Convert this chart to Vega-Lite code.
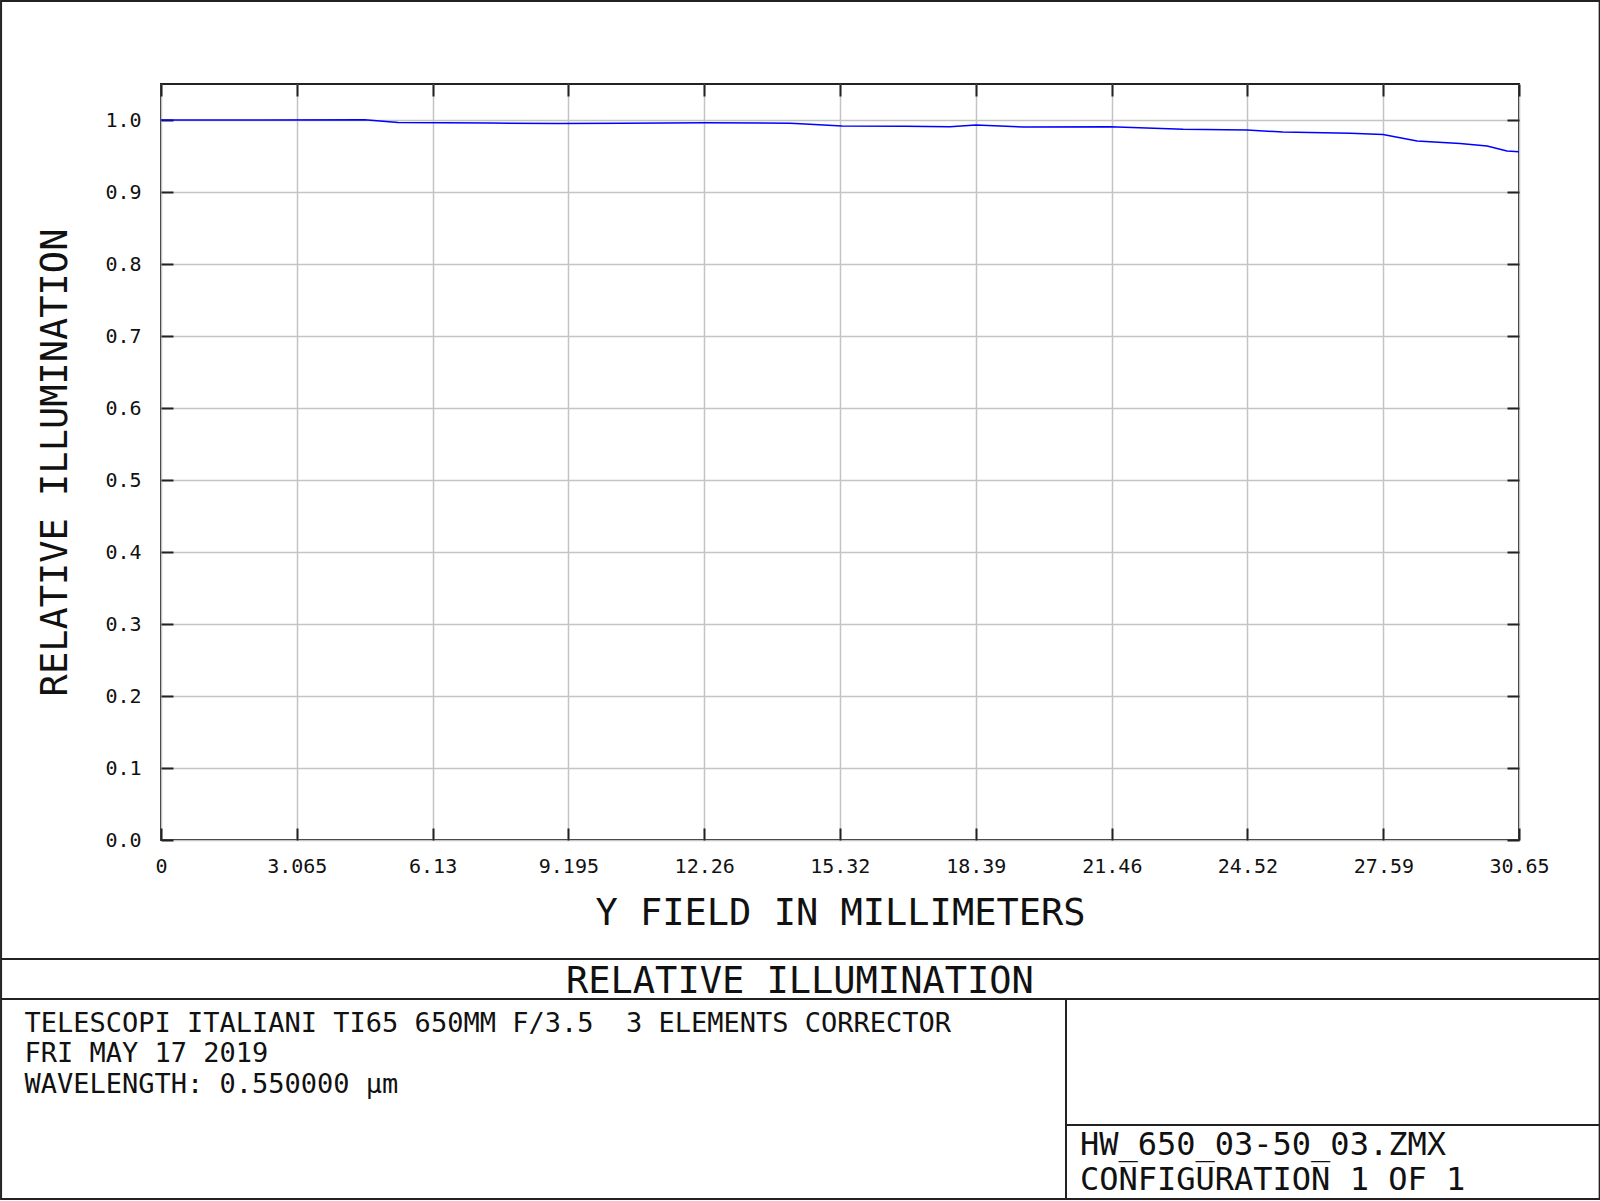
{
  "$schema": "https://vega.github.io/schema/vega-lite/v6.json",
  "width": 1358,
  "height": 756,
  "autosize": {"type": "none"},
  "padding": {"left": 161, "top": 84, "right": 81, "bottom": 361},
  "background": "white",
  "config": {
    "view": {"stroke": "#222222", "strokeWidth": 2},
    "font": "DejaVu Sans Mono"
  },
  "data": {
    "values": [
      {"x": 0, "y": 1.0},
      {"x": 2.3, "y": 1.0},
      {"x": 4.6, "y": 1.0005},
      {"x": 5.35, "y": 0.9964},
      {"x": 7.45, "y": 0.9957},
      {"x": 8.96, "y": 0.995},
      {"x": 10.4, "y": 0.9954},
      {"x": 12.28, "y": 0.9963},
      {"x": 14.2, "y": 0.9955},
      {"x": 14.54, "y": 0.9945},
      {"x": 15.37, "y": 0.9917},
      {"x": 16.79, "y": 0.9912},
      {"x": 17.81, "y": 0.9907},
      {"x": 18.39, "y": 0.993},
      {"x": 19.46, "y": 0.9903},
      {"x": 21.42, "y": 0.9907},
      {"x": 23.07, "y": 0.9871},
      {"x": 24.51, "y": 0.9861},
      {"x": 25.32, "y": 0.9833},
      {"x": 26.84, "y": 0.9817},
      {"x": 27.58, "y": 0.98},
      {"x": 28.35, "y": 0.9709},
      {"x": 29.32, "y": 0.9672},
      {"x": 29.93, "y": 0.964},
      {"x": 30.38, "y": 0.957},
      {"x": 30.65, "y": 0.956}
    ]
  },
  "resolve": {"axis": {"x": "independent", "y": "independent"}},
  "layer": [
    {
      "mark": {"type": "line", "color": "#0000ff", "strokeWidth": 1.5},
      "encoding": {
        "x": {
          "field": "x", "type": "quantitative",
          "scale": {"domain": [0, 30.65], "nice": false, "zero": false},
          "axis": {
            "orient": "bottom",
            "values": [0, 3.065, 6.13, 9.195, 12.26, 15.32, 18.39, 21.46, 24.52, 27.59, 30.65],
            "labelExpr": "format(datum.value, '.4~r')",
            "grid": true, "gridColor": "#c4c4c4", "gridWidth": 1.5,
            "domain": false,
            "tickSize": -12, "tickColor": "#222222", "tickWidth": 2,
            "labelPadding": 28, "labelFontSize": 20, "labelColor": "#111111",
            "labelFont": "DejaVu Sans Mono",
            "labelFlush": false, "labelOverlap": false,
            "title": "Y FIELD IN MILLIMETERS",
            "titleFont": "DejaVu Sans Mono",
            "titleFontSize": 37, "titleFontWeight": "normal", "titleColor": "#111111",
            "titlePadding": 19
          }
        },
        "y": {
          "field": "y", "type": "quantitative",
          "scale": {"domain": [0, 1.05], "nice": false, "zero": false},
          "axis": {
            "orient": "left",
            "values": [0, 0.1, 0.2, 0.3, 0.4, 0.5, 0.6, 0.7, 0.8, 0.9, 1.0],
            "format": ".1f",
            "grid": true, "gridColor": "#c4c4c4", "gridWidth": 1.5,
            "domain": false,
            "tickSize": -12, "tickColor": "#222222", "tickWidth": 2,
            "labelPadding": 32, "labelFontSize": 20, "labelColor": "#111111",
            "labelFont": "DejaVu Sans Mono",
            "labelFlush": false, "labelOverlap": false,
            "title": "RELATIVE ILLUMINATION",
            "titleFont": "DejaVu Sans Mono",
            "titleFontSize": 37, "titleFontWeight": "normal", "titleColor": "#111111",
            "titlePadding": 30
          }
        }
      }
    },
    {
      "mark": {"type": "line", "strokeOpacity": 0},
      "encoding": {
        "x": {
          "field": "x", "type": "quantitative",
          "axis": {
            "orient": "top",
            "values": [0, 3.065, 6.13, 9.195, 12.26, 15.32, 18.39, 21.46, 24.52, 27.59, 30.65],
            "labels": false, "grid": false, "domain": false,
            "tickSize": -12, "tickColor": "#222222", "tickWidth": 2,
            "title": null
          }
        },
        "y": {
          "field": "y", "type": "quantitative",
          "axis": {
            "orient": "right",
            "values": [0, 0.1, 0.2, 0.3, 0.4, 0.5, 0.6, 0.7, 0.8, 0.9, 1.0],
            "labels": false, "grid": false, "domain": false,
            "tickSize": -12, "tickColor": "#222222", "tickWidth": 2,
            "title": null
          }
        }
      }
    },
    {
      "data": {"values": [{}]},
      "mark": {"type": "rect", "fillOpacity": 0, "stroke": "#222222", "strokeWidth": 2},
      "encoding": {
        "x": {"datum": -3.61, "axis": null},
        "x2": {"datum": 32.47},
        "y": {"datum": 1.1653, "axis": null},
        "y2": {"datum": -0.4986}
      }
    },
    {
      "data": {"values": [{}]},
      "mark": {"type": "rule", "stroke": "#222222", "strokeWidth": 2},
      "encoding": {
        "x": {"datum": -3.61, "axis": null},
        "x2": {"datum": 32.47},
        "y": {"datum": -0.1653, "axis": null}
      }
    },
    {
      "data": {"values": [{}]},
      "mark": {"type": "rule", "stroke": "#222222", "strokeWidth": 2},
      "encoding": {
        "x": {"datum": -3.61, "axis": null},
        "x2": {"datum": 32.47},
        "y": {"datum": -0.2208, "axis": null}
      }
    },
    {
      "data": {"values": [{}]},
      "mark": {"type": "rule", "stroke": "#222222", "strokeWidth": 2},
      "encoding": {
        "x": {"datum": 20.426, "axis": null},
        "y": {"datum": -0.2208, "axis": null},
        "y2": {"datum": -0.4986}
      }
    },
    {
      "data": {"values": [{}]},
      "mark": {"type": "rule", "stroke": "#222222", "strokeWidth": 2},
      "encoding": {
        "x": {"datum": 20.426, "axis": null},
        "x2": {"datum": 32.47},
        "y": {"datum": -0.3958, "axis": null}
      }
    },
    {
      "data": {"values": [{}]},
      "mark": {"type": "text", "text": "RELATIVE ILLUMINATION", "font": "DejaVu Sans Mono", "fontSize": 37, "align": "center", "baseline": "middle", "color": "#111111"},
      "encoding": {
        "x": {"datum": 14.42, "axis": null},
        "y": {"datum": -0.1975, "axis": null}
      }
    },
    {
      "data": {"values": [{}]},
      "mark": {"type": "text", "text": "TELESCOPI ITALIANI TI65 650MM F/3.5 \u00a03 ELEMENTS CORRECTOR", "font": "DejaVu Sans Mono", "fontSize": 27, "align": "left", "baseline": "middle", "color": "#111111"},
      "encoding": {
        "x": {"datum": -3.081, "axis": null},
        "y": {"datum": -0.2556, "axis": null}
      }
    },
    {
      "data": {"values": [{}]},
      "mark": {"type": "text", "text": "FRI MAY 17 2019", "font": "DejaVu Sans Mono", "fontSize": 27, "align": "left", "baseline": "middle", "color": "#111111"},
      "encoding": {
        "x": {"datum": -3.081, "axis": null},
        "y": {"datum": -0.2972, "axis": null}
      }
    },
    {
      "data": {"values": [{}]},
      "mark": {"type": "text", "text": "WAVELENGTH: 0.550000 µm", "font": "DejaVu Sans Mono", "fontSize": 27, "align": "left", "baseline": "middle", "color": "#111111"},
      "encoding": {
        "x": {"datum": -3.081, "axis": null},
        "y": {"datum": -0.3403, "axis": null}
      }
    },
    {
      "data": {"values": [{}]},
      "mark": {"type": "text", "text": "HW_650_03-50_03.ZMX", "font": "DejaVu Sans Mono", "fontSize": 32, "align": "left", "baseline": "middle", "color": "#111111"},
      "encoding": {
        "x": {"datum": 20.74, "axis": null},
        "y": {"datum": -0.4236, "axis": null}
      }
    },
    {
      "data": {"values": [{}]},
      "mark": {"type": "text", "text": "CONFIGURATION 1 OF 1", "font": "DejaVu Sans Mono", "fontSize": 32, "align": "left", "baseline": "middle", "color": "#111111"},
      "encoding": {
        "x": {"datum": 20.74, "axis": null},
        "y": {"datum": -0.4722, "axis": null}
      }
    }
  ]
}
